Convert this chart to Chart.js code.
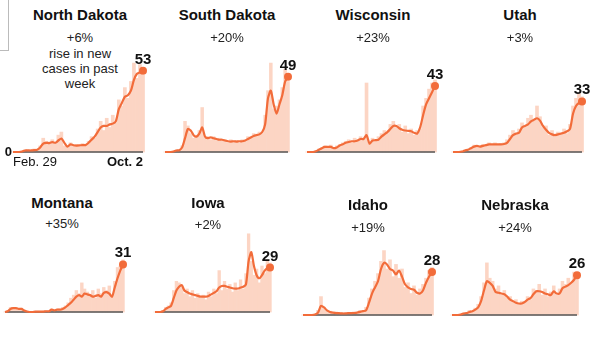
<!DOCTYPE html>
<html>
<head>
<meta charset="utf-8">
<script src="https://cdn.jsdelivr.net/npm/chart.js@4.4.0/dist/chart.umd.min.js"></script>
<style>
    body { margin: 0; background: #fff; width: 598px; height: 353px; overflow: hidden; position: relative; font-family: 'Liberation Sans', Arial, sans-serif; }
    .panel { position: absolute; }
    .title { position: absolute; width: 160px; text-align: center; font-weight: bold; font-size: 15px; line-height: 17px; color: #111; }
    .sub { position: absolute; width: 160px; text-align: center; font-size: 13px; line-height: 15.3px; color: #222; }
    .frame { position: absolute; left: -10px; top: -10px; width: 17px; height: 59px; border: 1px solid #bbb; }
</style>
</head>
<body>
<div class="frame"></div>
<script>
// Dates sampled every 5 days, Feb 29 -> Oct 2
const days = ['Feb 29','Mar 5','Mar 10','Mar 15','Mar 20','Mar 25','Mar 30','Apr 4','Apr 9','Apr 14',
    'Apr 19','Apr 24','Apr 29','May 4','May 9','May 14','May 19','May 24','May 29','Jun 3',
    'Jun 8','Jun 13','Jun 18','Jun 23','Jun 28','Jul 3','Jul 8','Jul 13','Jul 18','Jul 23',
    'Jul 28','Aug 2','Aug 7','Aug 12','Aug 17','Aug 22','Aug 27','Sep 1','Sep 6','Sep 11',
    'Sep 16','Sep 21','Sep 26','Oct 2'];

const states = ['North Dakota', 'South Dakota', 'Wisconsin', 'Utah', 'Montana', 'Iowa', 'Idaho', 'Nebraska'];
const changes = ['+6%', '+20%', '+23%', '+3%', '+35%', '+2%', '+19%', '+24%'];
const firstNote = ['rise in new', 'cases in past', 'week'];
const xTickLabels = ['Feb. 29', 'Oct. 2'];
const yTickLabel = '0';

// new cases per 100k: 7-day average (line) and daily (bars)
const ndAvg = [0,0,0,0.3,1,1,1,1.2,1.5,3, 5.5,6,5.8,6.5,6,7.5,8.8,6,3.5,5, 4.4,4.2,4.3,4.5,4.5,6,8,10,13,16, 17,17,18,18.5,20,28,32,36,37,40, 47,51,52,53];
const ndDaily = [0,0,0,0.5,1.5,0.8,1.4,2,1.2,4, 9,7,5,8,5,11,13,4,3,6, 4,5,3.5,5.5,4,7,10,9,15,20, 14,22,16,24,19,34,30,42,35,46, 58,48,57,50];
const sdAvg = [0,0,0,0.3,1,1.2,3,9,15,14, 11,10,12,16,10,9,9.5,9,8.5,8, 8,7.5,7,6.8,7,6.8,7,7,7.5,8.5, 9.5,10.5,11,11.5,13,18,35,40,31,25, 31,37,46,49];
const sdDaily = [0,0,0,0.5,1.5,1,4,20,17,12, 9,11,14,29,9,10,8,10,7.5,9, 7,8,6,8,6.5,7.5,6,8,7,10, 9,12,10,13,12,24,40,58,28,30, 34,42,54,46];
const wiAvg = [0,0,0,0.5,1.5,2.5,3.3,3.3,3.3,2.5, 3,4.3,5,6,6.5,7,7,7.5,8.5,8.5, 11,5.5,7.5,7.7,8,10,11.5,13,15,17, 17,15.5,14.5,14,13.8,13.5,12.5,12,16,24, 31,35,39,43];
const wiDaily = [0,0,0,0.8,2,3,4,3,4.5,2, 4,5,6,7,8,6,9,8,10,9, 45,5,9,7,10,12,14,12,18,20, 16,18,13,17,12,15,11,14,15,30, 35,41,45,47];
const utAvg = [0,0,0,0.3,1,1.5,2.5,3.5,4,3.5, 4,4.5,5,5,5,5,5,5.2,6,8.5, 11,12,12.5,16,17,18,20,21,22,20.5, 17,14.5,12.5,11.5,11,11.5,12,12.5,13.5,15, 25,30,32,33];
const utDaily = [0,0,0,0.5,1.5,2,3,4.5,3.5,4, 5,4,6,5,6,4.5,5.5,6,8,11, 14,11,15,19,16,22,24,20,30,23, 16,17,11,14,10,13,11,15,12,18, 30,35,38,36];
const mtAvg = [0,0.5,2,2.5,2.5,2,2,1,0.3,0, 0,0.2,0.3,0.3,0.3,0.5,0.5,1.5,1,1.5, 1.5,2,3,4.5,6,8,10,11,10,12, 11.5,11,10,10.5,11,10,12.5,13,12,10, 16,22,27,31];
const mtDaily = [0,1,3,2,3,1.5,2.5,0.5,0.5,0, 0,0.3,0.5,0.2,0.5,0.8,0.3,2,1,2, 2,3,4,6,9,11,14,12,19,15, 13,10,14,9,15,12,16,14,17,11, 20,29,30,34];
const iaAvg = [0,0,0,0.5,2,3,4,9,14,16.5, 17.5,14,13,12,11.5,11,10.5,10,10,10, 10.5,11.5,12.5,13.5,16,17,17,16.5,16,15.5, 15.3,15.3,16,16.5,18,33,39,30,24,22, 24,27,28.5,29];
const iaDaily = [0,0,0,1,3,4,6,14,20,19, 16,12,15,10,14,9,12,9,11,8, 13,10,15,12,27,14,20,15,18,13, 19,14,21,15,25,51,33,24,28,19, 30,25,34,32];
const idAvg = [0,0,0,0,0.3,1.5,6,5,3,2, 1.5,1.2,1.2,1,1,1.2,1.2,1.3,1.5,2, 2.5,3,8,14,18,22,30,34,33,30, 29,26.5,29,25,20,18,17,16.5,14.5,14, 16,21,25,28];
const idDaily = [0,0,0,0,0.5,3,12,4,3,2.5, 1,2,1,1.5,0.8,1.5,1,2,1,3, 2,5,11,17,22,27,35,42,30,36, 25,33,24,30,18,21,14,19,13,17, 20,24,29,31];
const neAvg = [0,0,0,0.3,1,1.3,2,2.5,3.5,5, 9,16,22,21,19,15,14.5,14,13.5,12, 10,9,8,7.5,7.5,8.5,10,11,13.5,15.5, 15.5,15,14,13.5,13,15.5,14,14,17.5,18.5, 19.5,21,23,26];
const neDaily = [0,0,0,0.5,1.5,1,3,2,4.5,7, 12,21,34,24,22,17,19,13,16,11, 12,8,10,7,9,8,12,10,17,16, 20,13,17,12,15,19,13,17,22,20, 24,21,28,27];

const avgSeries = [ndAvg, sdAvg, wiAvg, utAvg, mtAvg, iaAvg, idAvg, neAvg];
const dailySeries = [ndDaily, sdDaily, wiDaily, utDaily, mtDaily, iaDaily, idDaily, neDaily];

// panel placement: plot left/right, baseline y, title centre x/y, subtitle y
const panels = [
    { l: 13, r: 143, b: 152, cx: 80, ty: 14, sy: 38 },
    { l: 165, r: 288, b: 152, cx: 227, ty: 14, sy: 38 },
    { l: 307, r: 435, b: 152, cx: 373, ty: 14, sy: 38 },
    { l: 453, r: 582, b: 152, cx: 520, ty: 14, sy: 38 },
    { l: 5, r: 123, b: 312, cx: 62, ty: 202, sy: 224 },
    { l: 155, r: 270, b: 312, cx: 208, ty: 202, sy: 225 },
    { l: 303, r: 432, b: 315, cx: 368, ty: 204, sy: 228 },
    { l: 452, r: 577, b: 315, cx: 515, ty: 204, sy: 228 }
];

const Y_MAX = 60;
const PLOT_H = 92;
const PAD = 22;
const LINE_COLOR = '#f26c3a';
const BAR_COLOR = '#fcd5c4';
const FONT = "'Liberation Sans', Arial, sans-serif";

const decoPlugin = {
    id: 'deco',
    afterDatasetDraw(chart, args) {
        if (args.meta.type !== 'bar') return;
        const ctx = chart.ctx, area = chart.chartArea;
        const y0 = chart.scales.y.getPixelForValue(0);
        ctx.save();
        ctx.strokeStyle = '#555';
        ctx.lineWidth = 1.5;
        ctx.beginPath();
        ctx.moveTo(area.left, y0);
        ctx.lineTo(area.right, y0);
        ctx.stroke();
        ctx.restore();
    },
    afterDraw(chart, args, opts) {
        const ctx = chart.ctx;
        const meta = chart.getDatasetMeta(0);
        const last = meta.data[meta.data.length - 1];
        const data = chart.data.datasets[0].data;
        ctx.save();
        ctx.fillStyle = '#111';
        ctx.font = 'bold 15px ' + FONT;
        ctx.textAlign = 'center';
        ctx.textBaseline = 'alphabetic';
        ctx.fillText(String(Math.round(data[data.length - 1])), last.x, last.y - 7);

        if (opts.ticks) {
            const x = chart.scales.x, y = chart.scales.y;
            const y0 = y.getPixelForValue(0);
            ctx.font = '13px ' + FONT;
            ctx.textBaseline = 'middle';
            ctx.textAlign = 'left';
            ctx.fillText(xTickLabels[0], x.getPixelForValue(0), y0 + 10);
            ctx.font = 'bold 13px ' + FONT;
            ctx.textAlign = 'right';
            ctx.fillText(xTickLabels[1], x.getPixelForValue(days.length - 1), y0 + 10);
            ctx.fillText(yTickLabel, chart.chartArea.left - 1, y0);
        }
        ctx.restore();
    }
};

function addText(cls, text, cx, cy, lh) {
    const d = document.createElement('div');
    d.className = cls;
    d.style.left = (cx - 80) + 'px';
    d.style.top = (cy - lh / 2) + 'px';
    d.innerHTML = text;
    document.body.appendChild(d);
}

states.forEach((name, i) => {
    const p = panels[i];
    addText('title', name, p.cx, p.ty, 17);
    const subLines = i === 0 ? [changes[i]].concat(firstNote) : [changes[i]];
    addText('sub', subLines.join('<br>'), p.cx, p.sy, 15.3);

    const box = document.createElement('div');
    box.className = 'panel';
    box.style.left = (p.l - PAD) + 'px';
    box.style.top = (p.b - PLOT_H - PAD) + 'px';
    box.style.width = (p.r - p.l + PAD * 2) + 'px';
    box.style.height = (PLOT_H + PAD * 2) + 'px';
    const canvas = document.createElement('canvas');
    box.appendChild(canvas);
    document.body.appendChild(box);

    const avg = avgSeries[i];
    new Chart(canvas.getContext('2d'), {
        type: 'bar',
        data: {
            labels: days,
            datasets: [{
                type: 'line',
                data: avg,
                borderColor: LINE_COLOR,
                borderWidth: 2.2,
                tension: 0.25,
                pointRadius: c => c.dataIndex === avg.length - 1 ? 4 : 0,
                pointBackgroundColor: LINE_COLOR,
                pointBorderWidth: 0,
                clip: false
            }, {
                type: 'bar',
                data: dailySeries[i],
                backgroundColor: BAR_COLOR,
                barPercentage: 1,
                categoryPercentage: 1,
                clip: false
            }]
        },
        options: {
            responsive: true,
            maintainAspectRatio: false,
            animation: false,
            layout: { padding: PAD },
            plugins: {
                legend: { display: false },
                tooltip: { enabled: false },
                deco: { ticks: i === 0 }
            },
            scales: {
                x: { display: false, offset: false },
                y: { display: false, min: 0, max: Y_MAX }
            }
        },
        plugins: [decoPlugin]
    });
});
</script>
</body>
</html>
